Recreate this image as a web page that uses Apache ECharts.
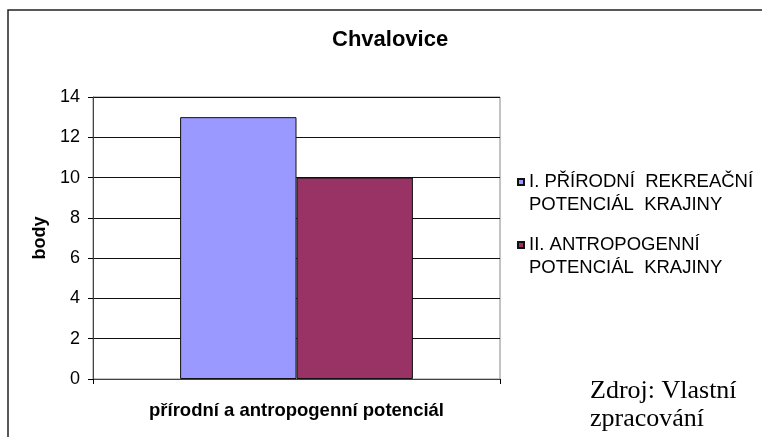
<!DOCTYPE html>
<html><head><meta charset="utf-8">
<script src="https://cdn.jsdelivr.net/npm/echarts@6/dist/echarts.min.js"></script>
<style>html,body{margin:0;padding:0;background:#fff}#c{width:762px;height:437px}</style>
</head><body><div id="c"></div>
<script>
var categories = ['přírodní a antropogenní potenciál'];
var seriesNames = ['I. PŘÍRODNÍ  REKREAČNÍ', 'II. ANTROPOGENNÍ'];
var legendLines = ['I. PŘÍRODNÍ  REKREAČNÍ\nPOTENCIÁL  KRAJINY', 'II. ANTROPOGENNÍ\nPOTENCIÁL  KRAJINY'];
var natural = [13];
var anthropogenic = [10];
var yTicks = {min: 0, max: 14, interval: 2};
var colors = ['#9999FF', '#993366'];

var chart = echarts.init(document.getElementById('c'));
var F = '"Liberation Sans", Arial, sans-serif';
chart.setOption({
  animation: false,
  title: {text: 'Chvalovice', left: 327, top: 24,
    textStyle: {fontFamily: F, fontSize: 22, fontWeight: 'bold', color: '#000'}},
  graphic: [
    {type: 'rect', shape: {x: 8, y: 10, width: 900, height: 600}, style: {fill: 'none', stroke: '#222', lineWidth: 1.5}, silent: true},
    {type: 'text', left: 590, top: 378, style: {text: 'Zdroj: Vlastní', font: '26px "Liberation Serif", "Times New Roman", serif', fill: '#000'}},
    {type: 'text', left: 590, top: 406, style: {text: 'zpracování', font: '26px "Liberation Serif", "Times New Roman", serif', fill: '#000'}}
  ],
  legend: {
    orient: 'vertical', left: 517, top: 147.5, padding: 0, itemGap: -6,
    itemWidth: 6, itemHeight: 6, icon: 'rect',
    formatter: function (n) { return ' \n' + legendLines[seriesNames.indexOf(n)]; },
    textStyle: {fontFamily: F, fontSize: 18.5, lineHeight: 23, color: '#000'}
  },
  grid: {left: 93, top: 97, width: 407, height: 282, show: true, borderColor: '#888', borderWidth: 1},
  xAxis: {
    type: 'category', data: categories,
    axisLine: {lineStyle: {color: '#444', width: 1}},
    axisTick: {show: true, length: 5, lineStyle: {color: '#000'}},
    axisLabel: {fontFamily: F, fontSize: 18.5, fontWeight: 'bold', color: '#000', margin: 22}
  },
  yAxis: {
    type: 'value', min: yTicks.min, max: yTicks.max, interval: yTicks.interval,
    name: 'body', nameLocation: 'middle', nameGap: 43,
    nameTextStyle: {fontFamily: F, fontSize: 18, fontWeight: 'bold', color: '#000'},
    axisLine: {show: true, lineStyle: {color: '#444', width: 1}},
    axisTick: {show: true, length: 5, lineStyle: {color: '#000'}},
    axisLabel: {fontFamily: F, fontSize: 18, color: '#000', margin: 13},
    splitLine: {lineStyle: {color: '#111', width: 1}}
  },
  series: [
    {name: seriesNames[0], type: 'bar', data: natural, barGap: '0%', barCategoryGap: '42.8%',
      itemStyle: {color: colors[0], borderColor: '#111', borderWidth: 1}},
    {name: seriesNames[1], type: 'bar', data: anthropogenic, barGap: '0%', barCategoryGap: '42.8%',
      itemStyle: {color: colors[1], borderColor: '#111', borderWidth: 1}}
  ]
});
</script></body></html>
